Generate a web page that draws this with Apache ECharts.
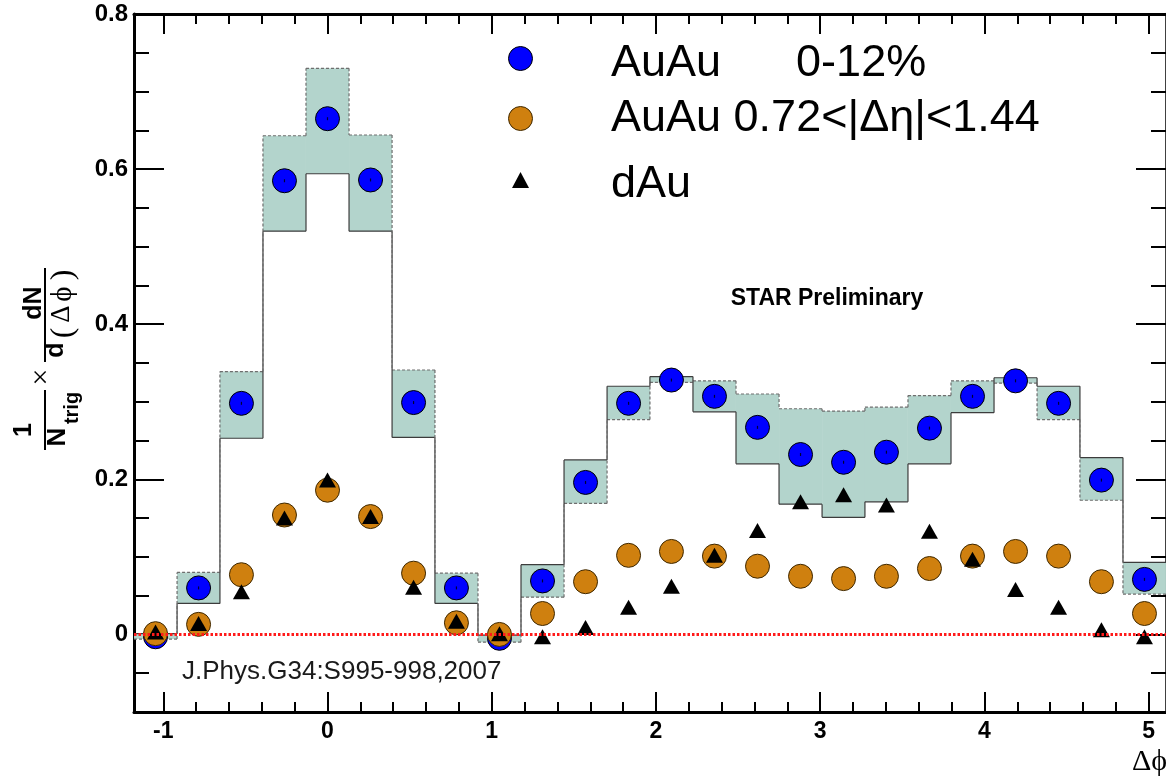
<!DOCTYPE html>
<html>
<head>
<meta charset="utf-8">
<script src="https://cdn.jsdelivr.net/npm/echarts@6/dist/echarts.min.js"></script>
<style>
html,body{margin:0;padding:0;background:#fff;}
#chart{width:1166px;height:779px;}
</style>
</head>
<body>
<div id="chart"></div>
<script>
// ---- data ----
const X_MIN = -1.1781;   // lower edge of first bin (-3pi/8)
const X_MAX = 5.1051;    // upper edge of last bin (13pi/8)
const Y_MIN = -0.1;
const Y_MAX = 0.8;
const BIN_WIDTH = 0.2618; // pi/12

const dphi = [-1.047, -0.785, -0.524, -0.262, 0.000, 0.262, 0.524, 0.785, 1.047, 1.309, 1.571, 1.833,
              2.094, 2.356, 2.618, 2.880, 3.142, 3.403, 3.665, 3.927, 4.189, 4.451, 4.712, 4.974];

const auauCentral = [-0.003, 0.060, 0.298, 0.585, 0.665, 0.586, 0.299, 0.060, -0.005, 0.069, 0.196, 0.298,
                     0.328, 0.307, 0.267, 0.232, 0.222, 0.235, 0.266, 0.307, 0.327, 0.298, 0.199, 0.071];

const auauDeta = [0.001, 0.013, 0.077, 0.154, 0.186, 0.152, 0.079, 0.015, 0.000, 0.027, 0.068, 0.102,
                  0.107, 0.101, 0.088, 0.075, 0.072, 0.075, 0.085, 0.101, 0.107, 0.101, 0.068, 0.027];

const dAu = [0.003, 0.014, 0.055, 0.150, 0.199, 0.152, 0.061, 0.017, 0.001, -0.003, 0.009, 0.035,
             0.062, 0.102, 0.134, 0.171, 0.180, 0.167, 0.133, 0.097, 0.058, 0.035, 0.006, -0.003];

// systematic band edges (solid outline / dashed outline)
const sysSolid  = [0.001, 0.040, 0.253, 0.520, 0.594, 0.520, 0.254, 0.040, -0.001, 0.090, 0.225, 0.320,
                   0.3325, 0.287, 0.220, 0.168, 0.151, 0.171, 0.220, 0.286, 0.331, 0.320, 0.228, 0.093];
const sysDashed = [-0.006, 0.080, 0.339, 0.643, 0.730, 0.644, 0.341, 0.079, -0.010, 0.048, 0.169, 0.277,
                   0.325, 0.327, 0.310, 0.291, 0.288, 0.293, 0.308, 0.327, 0.324, 0.277, 0.173, 0.052];

const zeroLine = [[X_MIN, 0], [X_MAX, 0]];

const xMajorTicks = [-1, 0, 1, 2, 3, 4, 5];
const xMinorTicks = [-0.8, -0.6, -0.4, -0.2, 0.2, 0.4, 0.6, 0.8, 1.2, 1.4, 1.6, 1.8, 2.2, 2.4, 2.6, 2.8,
                     3.2, 3.4, 3.6, 3.8, 4.2, 4.4, 4.6, 4.8];
const yMajorTicks = [0, 0.2, 0.4, 0.6, 0.8];
const yMinorTicks = [-0.05, 0.05, 0.1, 0.15, 0.25, 0.3, 0.35, 0.45, 0.5, 0.55, 0.65, 0.7, 0.75];

const legendLabels = ['AuAu      0-12%', 'AuAu 0.72<|\u0394\u03b7|<1.44', 'dAu'];

// ---- chart ----
const FONT = '"Liberation Sans", Arial, Helvetica, sans-serif';
const SERIF = '"Liberation Serif", "DejaVu Serif", "Times New Roman", serif';
const chart = echarts.init(document.getElementById('chart'), null, {renderer: 'canvas'});

function pairs(xs, ys) { return xs.map((x, i) => [x, ys[i]]); }

function xAxisDef(pos, ticks, len, showLine, showLabel, lw) {
  return {
    type: 'value', position: pos, min: X_MIN, max: X_MAX, gridIndex: 0,
    axisLine: {show: showLine, onZero: false, lineStyle: {color: '#000', width: lw}},
    axisTick: {show: true, inside: true, length: len, customValues: ticks, lineStyle: {color: '#000', width: 2}},
    axisLabel: showLabel ? {show: true, customValues: ticks, margin: 8, color: '#000', fontFamily: FONT,
                            fontWeight: 'bold', fontSize: 23, formatter: v => String(v)} : {show: false},
    splitLine: {show: false}
  };
}
function yAxisDef(pos, ticks, len, showLine, showLabel, lw) {
  return {
    type: 'value', position: pos, min: Y_MIN, max: Y_MAX, gridIndex: 0,
    axisLine: {show: showLine, onZero: false, lineStyle: {color: '#000', width: lw}},
    axisTick: {show: true, inside: true, length: len, customValues: ticks, lineStyle: {color: '#000', width: 2}},
    axisLabel: showLabel ? {show: true, customValues: ticks, margin: 6, color: '#000', fontFamily: FONT,
                            fontWeight: 'bold', fontSize: 24,
                            formatter: v => (Math.abs(v) < 1e-9 ? '0' : v.toFixed(1))} : {show: false},
    splitLine: {show: false}
  };
}

const bandData = dphi.map((x, i) => [x, sysSolid[i], sysDashed[i]]);

function renderBand(params, api) {
  const i = params.dataIndex;
  const x = api.value(0);
  const s = api.value(1), d = api.value(2);
  const hw = BIN_WIDTH / 2;
  const pL = api.coord([x - hw, 0])[0];
  const pR = api.coord([x + hw, 0])[0];
  const ys = api.coord([x, s])[1];
  const yd = api.coord([x, d])[1];
  const children = [
    {type: 'rect', shape: {x: pL, y: Math.min(ys, yd), width: pR - pL, height: Math.max(Math.abs(ys - yd), 1)},
     style: {fill: '#b3d4cc'}},
    {type: 'line', shape: {x1: pL, y1: ys, x2: pR, y2: ys}, style: {stroke: '#3c3c3c', lineWidth: 1.2}},
    {type: 'line', shape: {x1: pL, y1: yd, x2: pR, y2: yd}, style: {stroke: '#6e6e6e', lineWidth: 1.2, lineDash: [3, 2]}}
  ];
  if (i > 0) {
    const ps = api.coord([x, sysSolid[i - 1]])[1];
    const pd = api.coord([x, sysDashed[i - 1]])[1];
    children.push({type: 'line', shape: {x1: pL, y1: ps, x2: pL, y2: ys}, style: {stroke: '#3c3c3c', lineWidth: 1.2}});
    children.push({type: 'line', shape: {x1: pL, y1: pd, x2: pL, y2: yd}, style: {stroke: '#6e6e6e', lineWidth: 1.2, lineDash: [3, 2]}});
  }
  return {type: 'group', children: children};
}

function rotText(x, y, text, size, weight, family) {
  return {type: 'text', x: x, y: y, rotation: Math.PI / 2, z: 100,
          style: {text: text, fill: '#000', fontSize: size, fontWeight: weight || 'normal',
                  fontFamily: family || FONT, align: 'center', verticalAlign: 'middle'}};
}

const option = {
  animation: false,
  backgroundColor: '#fff',
  grid: {left: 134, top: 14, width: 1034, height: 698, containLabel: false},
  xAxis: [
    xAxisDef('bottom', xMajorTicks, 20, true, true, 3),
    xAxisDef('bottom', xMinorTicks, 10, false, false, 3),
    xAxisDef('top', xMajorTicks, 20, true, false, 3),
    xAxisDef('top', xMinorTicks, 10, false, false, 3)
  ],
  yAxis: [
    yAxisDef('left', yMajorTicks, 30, true, true, 3),
    yAxisDef('left', yMinorTicks, 15, false, false, 3),
    yAxisDef('right', yMajorTicks, 30, true, false, 2.5),
    yAxisDef('right', yMinorTicks, 15, false, false, 2.5)
  ],
  series: [
    {type: 'custom', name: 'sys', xAxisIndex: 0, yAxisIndex: 0, data: bandData,
     encode: {x: 0, y: [1, 2]}, renderItem: renderBand, z: 1, silent: true},
    {type: 'scatter', name: legendLabels[0], xAxisIndex: 0, yAxisIndex: 0, data: pairs(dphi, auauCentral),
     symbol: 'circle', symbolSize: 24, z: 3,
     itemStyle: {color: '#0000ff', borderColor: '#000', borderWidth: 1, opacity: 1}},
    {type: 'scatter', name: 'errbar', xAxisIndex: 0, yAxisIndex: 0, data: pairs(dphi, auauCentral),
     symbol: 'rect', symbolSize: [1.2, 3], z: 3, itemStyle: {color: '#000'}},
    {type: 'scatter', name: legendLabels[1], xAxisIndex: 0, yAxisIndex: 0, data: pairs(dphi, auauDeta),
     symbol: 'circle', symbolSize: 24, z: 4,
     itemStyle: {color: '#cf800f', borderColor: '#3f2800', borderWidth: 1, opacity: 1}},
    {type: 'scatter', name: legendLabels[2], xAxisIndex: 0, yAxisIndex: 0, data: pairs(dphi, dAu),
     symbol: 'triangle', symbolSize: [17, 15], z: 5, itemStyle: {color: '#000', opacity: 1}},
    {type: 'line', name: 'zero', xAxisIndex: 0, yAxisIndex: 0, data: zeroLine, symbol: 'none', z: 6,
     lineStyle: {color: '#ff1a1a', width: 3, type: [2.5, 2]}, silent: true}
  ],
  graphic: [
    // legend
    {type: 'circle', shape: {cx: 520.5, cy: 58.5, r: 12}, style: {fill: '#0000ff', stroke: '#000', lineWidth: 1}, z: 100},
    {type: 'circle', shape: {cx: 520.5, cy: 118.5, r: 12}, style: {fill: '#cf800f', stroke: '#3f2800', lineWidth: 1}, z: 100},
    {type: 'polygon', shape: {points: [[520.5, 172], [529, 188], [512, 188]]}, style: {fill: '#000'}, z: 100},
    {type: 'text', x: 611, y: 64, z: 100, style: {text: legendLabels[0], fill: '#000', fontSize: 45, fontFamily: FONT, align: 'left', verticalAlign: 'middle'}},
    {type: 'text', x: 611, y: 119, z: 100, style: {text: legendLabels[1], fill: '#000', fontSize: 45, fontFamily: FONT, align: 'left', verticalAlign: 'middle'}},
    {type: 'text', x: 611, y: 185, z: 100, style: {text: legendLabels[2], fill: '#000', fontSize: 45, fontFamily: FONT, align: 'left', verticalAlign: 'middle'}},
    // annotations
    {type: 'text', x: 827, y: 299, z: 100, style: {text: 'STAR Preliminary', fill: '#000', fontSize: 23, fontWeight: 'bold', fontFamily: FONT, align: 'center', verticalAlign: 'middle'}},
    {type: 'text', x: 182, y: 672, z: 100, style: {text: 'J.Phys.G34:S995-998,2007', fill: '#1a1a1a', fontSize: 26, fontFamily: FONT, align: 'left', verticalAlign: 'middle'}},
    // x axis title
    {type: 'text', x: 1167, y: 762, z: 100, style: {text: '\u0394\u03d5', fill: '#000', fontSize: 30, fontFamily: SERIF, align: 'right', verticalAlign: 'middle'}},
    // y axis title: 1/N_trig x dN/d(dphi)
    rotText(34, 303, 'dN', 25, 'bold'),
    {type: 'line', shape: {x1: 45, y1: 268, x2: 45, y2: 362}, style: {stroke: '#000', lineWidth: 2}, z: 100},
    rotText(64, 275, ')', 32, 'normal', SERIF),
    rotText(63, 294, '\u03d5', 29, 'normal', SERIF),
    rotText(62, 314, '\u0394', 27, 'normal', SERIF),
    rotText(64, 333, '(', 32, 'normal', SERIF),
    rotText(56, 350, 'd', 25, 'bold'),
    rotText(42, 377, '\u00d7', 30, 'normal', SERIF),
    rotText(24, 430, '1', 25, 'bold'),
    {type: 'line', shape: {x1: 45, y1: 390, x2: 45, y2: 450}, style: {stroke: '#000', lineWidth: 2}, z: 100},
    rotText(58, 437, 'N', 26, 'bold'),
    rotText(72, 408, 'trig', 20, 'bold')
  ]
};
chart.setOption(option);
</script>
</body>
</html>
